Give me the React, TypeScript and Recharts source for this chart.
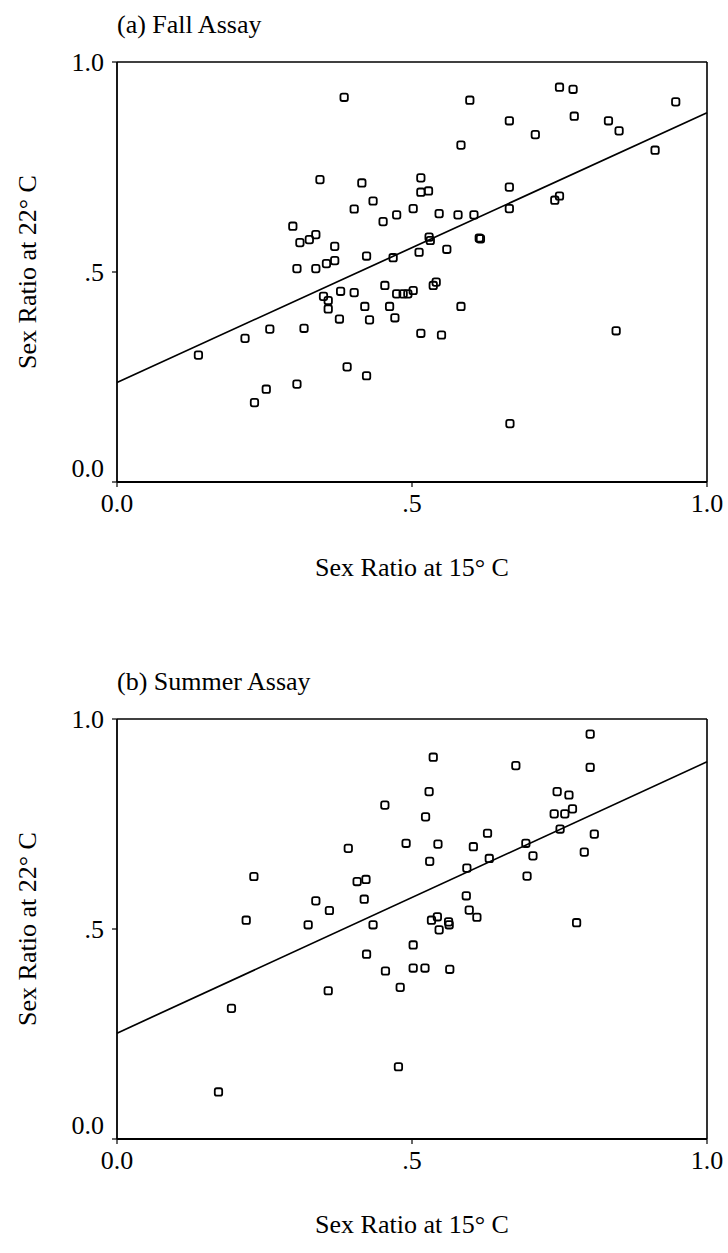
import React from 'react';
import { ScatterChart, Scatter, XAxis, YAxis, ReferenceLine } from 'recharts';

// Panel (a) Fall Assay: sex ratio at 15°C (x) vs 22°C (y)
const fallX = [0.385, 0.344, 0.415, 0.434, 0.402, 0.474, 0.451, 0.502, 0.298, 0.310, 0.326, 0.337, 0.369, 0.423, 0.468, 0.369, 0.355, 0.337, 0.305, 0.454, 0.474, 0.485, 0.493, 0.502, 0.379, 0.402, 0.350, 0.358, 0.358, 0.420, 0.462, 0.377, 0.428, 0.471, 0.259, 0.317, 0.217, 0.138, 0.390, 0.423, 0.253, 0.305, 0.233, 0.536, 0.541, 0.583, 0.515, 0.550, 0.846, 0.666, 0.598, 0.750, 0.773, 0.947, 0.665, 0.775, 0.833, 0.851, 0.709, 0.583, 0.912, 0.515, 0.515, 0.528, 0.665, 0.546, 0.578, 0.605, 0.665, 0.742, 0.750, 0.529, 0.531, 0.614, 0.616, 0.512, 0.559];
const fallY = [0.916, 0.720, 0.712, 0.669, 0.650, 0.636, 0.620, 0.651, 0.609, 0.570, 0.577, 0.589, 0.561, 0.538, 0.534, 0.527, 0.520, 0.508, 0.508, 0.468, 0.448, 0.448, 0.448, 0.456, 0.454, 0.451, 0.442, 0.432, 0.412, 0.418, 0.418, 0.388, 0.386, 0.391, 0.364, 0.366, 0.342, 0.302, 0.274, 0.253, 0.221, 0.233, 0.189, 0.468, 0.476, 0.418, 0.354, 0.350, 0.360, 0.139, 0.909, 0.940, 0.935, 0.905, 0.860, 0.871, 0.860, 0.836, 0.827, 0.802, 0.790, 0.724, 0.690, 0.693, 0.702, 0.639, 0.636, 0.636, 0.651, 0.671, 0.681, 0.583, 0.575, 0.581, 0.579, 0.547, 0.554];

// Panel (b) Summer Assay
const summerX = [0.454, 0.392, 0.490, 0.802, 0.536, 0.676, 0.802, 0.529, 0.746, 0.766, 0.772, 0.741, 0.759, 0.523, 0.751, 0.809, 0.628, 0.544, 0.604, 0.693, 0.792, 0.705, 0.631, 0.530, 0.232, 0.407, 0.422, 0.419, 0.337, 0.360, 0.219, 0.324, 0.434, 0.423, 0.455, 0.480, 0.358, 0.194, 0.477, 0.172, 0.593, 0.695, 0.592, 0.597, 0.610, 0.533, 0.543, 0.562, 0.563, 0.546, 0.502, 0.502, 0.522, 0.564, 0.779];
const summerY = [0.795, 0.692, 0.704, 0.964, 0.909, 0.889, 0.885, 0.827, 0.827, 0.819, 0.786, 0.774, 0.774, 0.767, 0.738, 0.726, 0.728, 0.702, 0.696, 0.704, 0.683, 0.674, 0.668, 0.661, 0.625, 0.613, 0.618, 0.571, 0.567, 0.544, 0.521, 0.510, 0.510, 0.440, 0.400, 0.361, 0.353, 0.311, 0.172, 0.112, 0.645, 0.626, 0.579, 0.545, 0.528, 0.521, 0.529, 0.517, 0.510, 0.498, 0.462, 0.407, 0.407, 0.404, 0.515];

// Regression lines: y at x = 0 and x = 1
const fallFit = [0.237, 0.879];
const summerFit = [0.252, 0.898];

const axisTicks = [0, 0.5, 1];
const tickLabels = ['0.0', '.5', '1.0'];

const panelTitles = ['(a) Fall Assay', '(b) Summer Assay'];
const xTitle = 'Sex Ratio at 15° C';
const yTitle = 'Sex Ratio at 22° C';

const FONT = '"Liberation Serif", "DejaVu Serif", serif';
const FS = 26;

const fmt = (v: number) => tickLabels[axisTicks.indexOf(v)] ?? String(v);

const Square = (props: any) => {
  const { cx, cy } = props;
  if (cx == null || cy == null) return null;
  const s = 7.4;
  return (
    <rect x={cx - s / 2} y={cy - s / 2} width={s} height={s} rx={2} ry={2}
      fill="none" stroke="#000" strokeWidth={1.8} />
  );
};

const YTick = (props: any) => {
  const { x, y, payload } = props;
  const shift = payload.value === 0 ? -14 : 0;
  return (
    <text x={x} y={y + shift} dy="0.355em" textAnchor="end" fill="#000"
      fontFamily={FONT} fontSize={FS}>{fmt(payload.value)}</text>
  );
};

const XTick = (props: any) => {
  const { x, y, payload } = props;
  return (
    <text x={x} y={y} dy="0.8em" textAnchor="middle" fill="#000"
      fontFamily={FONT} fontSize={FS}>{fmt(payload.value)}</text>
  );
};

function Panel({ xs, ys, fit, top }: { xs: number[]; ys: number[]; fit: number[]; top: number }) {
  const data = xs.map((x, i) => ({ x, y: ys[i] }));
  return (
    <div style={{ position: 'absolute', left: 0, top }}>
      <ScatterChart width={728} height={552} margin={{ top: 62, right: 21, left: 57, bottom: 40 }}>
        <XAxis type="number" dataKey="x" domain={[0, 1]} ticks={axisTicks} height={30}
          axisLine={{ stroke: '#000', strokeWidth: 1.8 }} tickLine={{ stroke: '#000', strokeWidth: 1.2 }}
          tickSize={5} tickMargin={4} tick={<XTick />} allowDataOverflow />
        <YAxis type="number" dataKey="y" domain={[0, 1]} ticks={axisTicks} width={60}
          axisLine={{ stroke: '#000', strokeWidth: 1.8 }} tickLine={{ stroke: '#000', strokeWidth: 1.2 }}
          tickSize={5} tickMargin={8} tick={<YTick />} allowDataOverflow />
        <ReferenceLine y={1} stroke="#000" strokeWidth={1.6} ifOverflow="visible" />
        <ReferenceLine x={1} stroke="#000" strokeWidth={1.6} ifOverflow="visible" />
        <ReferenceLine segment={[{ x: 0, y: fit[0] }, { x: 1, y: fit[1] }]} stroke="#000"
          strokeWidth={1.7} ifOverflow="visible" />
        <Scatter data={data} shape={<Square />} isAnimationActive={false} />
      </ScatterChart>
    </div>
  );
}

const textBase: React.CSSProperties = {
  position: 'absolute', fontFamily: FONT, fontSize: FS, lineHeight: 1, color: '#000', whiteSpace: 'nowrap',
};

export default function App() {
  const offsets = [0, 657];
  return (
    <div style={{ position: 'absolute', left: 0, top: 0, width: 728, height: 1253, background: '#fff' }}>
      <Panel xs={fallX} ys={fallY} fit={fallFit} top={offsets[0]} />
      <Panel xs={summerX} ys={summerY} fit={summerFit} top={offsets[1]} />
      {offsets.map((o, i) => (
        <React.Fragment key={i}>
          <div style={{ ...textBase, left: 117, top: o + 12 }}>{panelTitles[i]}</div>
          <div style={{ ...textBase, left: 412, top: o + 568, transform: 'translate(-50%, -50%)' }}>{xTitle}</div>
          <div style={{ ...textBase, left: 28, top: o + 272, transform: 'translate(-50%, -50%) rotate(-90deg)' }}>{yTitle}</div>
        </React.Fragment>
      ))}
    </div>
  );
}
